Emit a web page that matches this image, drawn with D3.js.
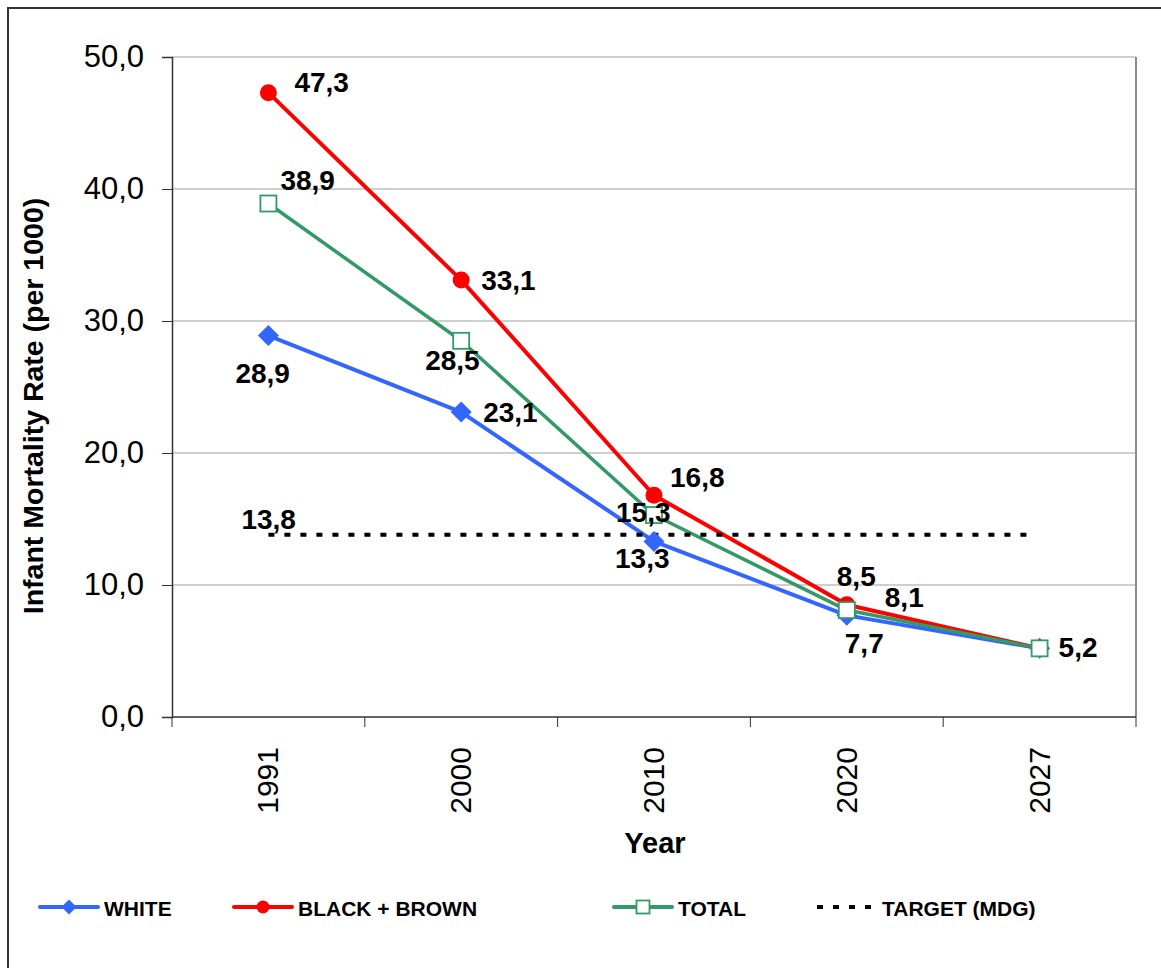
<!DOCTYPE html>
<html>
<head>
<meta charset="utf-8">
<script src="https://cdn.jsdelivr.net/npm/d3@7"></script>
<style>
  html, body { margin: 0; padding: 0; background: #fff; }
  svg { display: block; font-family: 'Liberation Sans', Arial, sans-serif; }
</style>
</head>
<body>
<svg id="chart" width="1161" height="968"></svg>
<script>
// Data
const years = ['1991', '2000', '2010', '2020', '2027']
const white = [28.9, 23.1, 13.3, 7.7, 5.2]
const blackBrown = [47.3, 33.1, 16.8, 8.5, 5.2]
const total = [38.9, 28.5, 15.3, 8.1, 5.2]
const target = 13.8
const yTicks = [0, 10, 20, 30, 40, 50]

// label offsets from the point (text start, baseline), null = no label
const whiteLabelPos = [[-33, 47], [22, 10], [-39, 27], [-2, 38], null]
const blackLabelPos = [[26, -1], [20, 10], [16, -8], [-10, -19], null]
const totalLabelPos = [[12, -14], [-36, 29], [-38, 7], [38, -3], [19, 9]]

const svg = d3.select('#chart')
const margin = { top: 57, right: 25, bottom: 251, left: 172 }
const width = +svg.attr('width')
const height = +svg.attr('height')

const fmt = v => d3.format('.1f')(v).replace('.', ',')

// outer frame
svg.append('rect')
  .attr('x', 8).attr('y', 8)
  .attr('width', 1170).attr('height', 980)
  .attr('fill', 'none')
  .attr('stroke', '#333')
  .attr('stroke-width', 2)

const xScale = d3.scaleBand()
  .domain(years)
  .range([margin.left, width - margin.right])
  .padding(0)

const yScale = d3.scaleLinear()
  .domain([0, 50])
  .range([height - margin.bottom, margin.top])

const x = i => xScale(years[i]) + xScale.bandwidth() / 2

// Grid lines
svg.append('g')
  .selectAll('line')
  .data(yTicks.filter(d => d > 0))
  .join('line')
  .attr('x1', margin.left)
  .attr('x2', width - margin.right)
  .attr('y1', d => yScale(d))
  .attr('y2', d => yScale(d))
  .attr('stroke', '#a0a0a0')
  .attr('stroke-width', 1.2)

// right border of plot
svg.append('line')
  .attr('x1', width - margin.right).attr('x2', width - margin.right)
  .attr('y1', margin.top).attr('y2', yScale(0))
  .attr('stroke', '#8c8c8c')
  .attr('stroke-width', 2)

// Axel Y
const yAxis = svg.append('g')
  .attr('transform', `translate(${margin.left},0)`)
  .call(d3.axisLeft(yScale).tickValues(yTicks).tickFormat(fmt).tickSize(10).tickPadding(18))
yAxis.select('.domain').attr('stroke', '#333').attr('stroke-width', 1.5)
yAxis.selectAll('.tick line').attr('stroke', '#333')
yAxis.selectAll('text')
  .style('font-size', '31px')
  .attr('fill', '#000')

// Axel X (ticks on band edges)
const xAxis = svg.append('g')
  .attr('transform', `translate(0,${yScale(0)})`)
xAxis.append('line')
  .attr('x1', margin.left).attr('x2', width - margin.right)
  .attr('stroke', '#333').attr('stroke-width', 1.5)
xAxis.selectAll('line.edge')
  .data(years.concat(['end']))
  .join('line')
  .attr('class', 'edge')
  .attr('x1', (d, i) => margin.left + i * xScale.bandwidth())
  .attr('x2', (d, i) => margin.left + i * xScale.bandwidth())
  .attr('y1', 0).attr('y2', 10)
  .attr('stroke', '#333')
xAxis.selectAll('text')
  .data(years)
  .join('text')
  .attr('transform', (d, i) => `translate(${x(i) + 10},30) rotate(-90)`)
  .attr('text-anchor', 'end')
  .style('font-size', '30px')
  .text(d => d)

// Axis titles
svg.append('text')
  .attr('x', 655).attr('y', 853)
  .attr('text-anchor', 'middle')
  .style('font-size', '29px').style('font-weight', 'bold')
  .text('Year')

svg.append('text')
  .attr('transform', 'translate(43,406) rotate(-90)')
  .attr('text-anchor', 'middle')
  .style('font-size', '28.5px').style('font-weight', 'bold')
  .text('Infant Mortality Rate (per 1000)')

// Series
const series = [
  { name: 'WHITE', values: white, color: '#3366ff', width: 4, shape: 'diamond', labels: whiteLabelPos },
  { name: 'BLACK + BROWN', values: blackBrown, color: '#ff0000', width: 4, shape: 'circle', labels: blackLabelPos },
  { name: 'TOTAL', values: total, color: '#339966', width: 3.5, shape: 'square', labels: totalLabelPos }
]

const line = d3.line()
  .x((d, i) => x(i))
  .y(d => yScale(d))

series.forEach(s => {
  svg.append('path')
    .datum(s.values)
    .attr('d', line)
    .attr('fill', 'none')
    .attr('stroke', s.color)
    .attr('stroke-width', s.width)
    .attr('stroke-linejoin', 'round')
})

// Target line
svg.append('line')
  .attr('x1', x(0)).attr('x2', x(years.length - 1) - 8)
  .attr('y1', yScale(target)).attr('y2', yScale(target))
  .attr('stroke', '#000')
  .attr('stroke-width', 4)
  .attr('stroke-dasharray', '6,10')

const drawMarker = (g, shape, color, cx, cy, big) => {
  if (shape === 'diamond') {
    const r = big ? 10.5 : 7.5
    g.append('path')
      .attr('d', `M${cx},${cy - r}L${cx + r},${cy}L${cx},${cy + r}L${cx - r},${cy}Z`)
      .attr('fill', color)
  } else if (shape === 'circle') {
    g.append('circle')
      .attr('cx', cx).attr('cy', cy)
      .attr('r', big ? 8.5 : 6.5)
      .attr('fill', color)
  } else {
    const s = big ? 16 : 13
    g.append('rect')
      .attr('x', cx - s / 2).attr('y', cy - s / 2)
      .attr('width', s).attr('height', s)
      .attr('fill', '#fff')
      .attr('stroke', color)
      .attr('stroke-width', 1.8)
  }
}

series.forEach(s => {
  const g = svg.append('g')
  s.values.forEach((v, i) => drawMarker(g, s.shape, s.color, x(i), yScale(v), true))
})

// Data labels
const labelText = (px, py, off, v) => {
  svg.append('text')
    .attr('x', px + off[0])
    .attr('y', py + off[1])
    .style('font-size', '28px')
    .style('font-weight', 'bold')
    .text(fmt(v))
}

series.forEach(s => {
  s.values.forEach((v, i) => {
    if (s.labels[i]) labelText(x(i), yScale(v), s.labels[i], v)
  })
})
labelText(x(0), yScale(target), [-27, -6], target)

// Legend
const legendItems = [
  { label: 'WHITE', x: 40, series: series[0] },
  { label: 'BLACK + BROWN', x: 234, series: series[1] },
  { label: 'TOTAL', x: 614, series: series[2] },
  { label: 'TARGET (MDG)', x: 817, series: null }
]
const legendY = 907

legendItems.forEach(item => {
  const g = svg.append('g')
  if (item.series) {
    g.append('line')
      .attr('x1', item.x).attr('x2', item.x + 58)
      .attr('y1', legendY).attr('y2', legendY)
      .attr('stroke', item.series.color)
      .attr('stroke-width', 4)
      .attr('stroke-linecap', 'round')
    drawMarker(g, item.series.shape, item.series.color, item.x + 29, legendY, false)
  } else {
    g.append('line')
      .attr('x1', item.x).attr('x2', item.x + 58)
      .attr('y1', legendY).attr('y2', legendY)
      .attr('stroke', '#000')
      .attr('stroke-width', 4)
      .attr('stroke-dasharray', '6,10')
  }
  g.append('text')
    .attr('x', item.series ? item.x + 64 : item.x + 65)
    .attr('y', legendY + 9)
    .style('font-size', '21px')
    .style('font-weight', 'bold')
    .text(item.label)
})
</script>
</body>
</html>
